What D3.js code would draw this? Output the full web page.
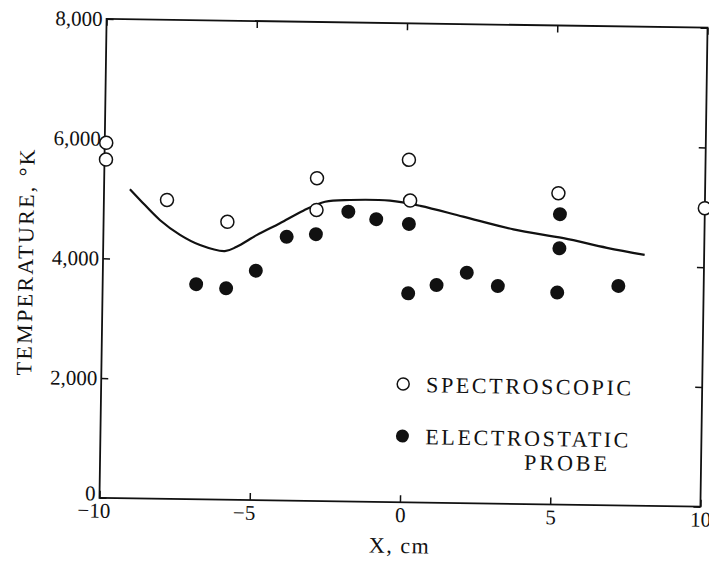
<!DOCTYPE html>
<html>
<head>
<meta charset="utf-8">
<script src="https://cdn.jsdelivr.net/npm/d3@7"></script>
<style>
  body { margin: 0; background: #fff; }
  text { font-family: 'Liberation Serif', 'DejaVu Serif', serif; fill: #111; }
</style>
</head>
<body>
<script>
// spectroscopic (open circles)
var specX = [-9.95, -9.95, -7.9, -5.88, -2.92, -2.92, 0.13, 0.19, 5.12, 10.0];
var specT = [5930, 5650, 4990, 4640, 5390, 4860, 5720, 5040, 5200, 4985];

// electrostatic probe (filled circles)
var probeX = [-6.89, -5.89, -4.91, -3.9, -2.93, -1.86, -0.93, 0.16, 0.17, 1.11, 2.11, 3.15, 5.18, 5.18, 5.13, 7.16];
var probeT = [3590, 3530, 3830, 4405, 4455, 4840, 4720, 4650, 3490, 3635, 3850, 3635, 4850, 4280, 3540, 3665];

// smooth curve through the data
var curveX = [-9.14, -8.79, -8.12, -7.45, -6.78, -5.95, -5.56, -4.9, -4.13, -3.36, -2.64, -1.81, -0.48, 0.53, 1.96, 3.64, 5.31, 6.76, 8.02];
var curveT = [5160, 4980, 4650, 4410, 4245, 4150, 4225, 4425, 4630, 4845, 5000, 5035, 5033, 4955, 4785, 4585, 4450, 4300, 4190];

var xTicks = [-10, -5, 0, 5, 10];
var yTicks = [0, 2000, 4000, 6000, 8000];

var svgWidth = 709;
var svgHeight = 561;

var plot = {left: 103, right: 704, top: 23.25, bottom: 502.25};

var svg = d3.select('body')
            .append('svg')
            .attr('width', svgWidth)
            .attr('height', svgHeight);

// the scanned figure sits slightly tilted
var chartGroup = svg.append('g')
                    .attr('transform', 'rotate(0.85, 403.5, 262.75)');

var xScale = d3.scaleLinear().domain([-10, 10]).range([plot.left, plot.right]);
var yScale = d3.scaleLinear().domain([0, 8000]).range([plot.bottom, plot.top]);

chartGroup.append('rect')
          .attr('x', xScale(-10))
          .attr('y', yScale(8000))
          .attr('width', xScale(10) - xScale(-10))
          .attr('height', yScale(0) - yScale(8000))
          .attr('fill', 'none')
          .attr('stroke', '#111')
          .attr('stroke-width', 1.8);

var bottomAxis = d3.axisBottom(xScale)
                   .tickValues(xTicks)
                   .tickSizeInner(-7)
                   .tickSizeOuter(0)
                   .tickPadding(5)
                   .tickFormat(d => (d < 0 ? '\u2212' : '') + Math.abs(d));

var leftAxis = d3.axisLeft(yScale)
                 .tickValues(yTicks)
                 .tickSizeInner(-7)
                 .tickSizeOuter(0)
                 .tickPadding(4)
                 .tickFormat(d3.format(','));

var xg = chartGroup.append('g')
                   .attr('transform', `translate(0, ${plot.bottom})`)
                   .call(bottomAxis);
xg.selectAll('text')
  .attr('text-anchor', 'end')
  .attr('dx', d => (String(Math.abs(d)).length * 0.25) + 'em');

var yg = chartGroup.append('g')
                   .attr('transform', `translate(${plot.left}, 0)`)
                   .call(leftAxis);
// the zero label sits a little above its tick
yg.selectAll('text').filter(d => d === 0).attr('dy', '0.1em');

chartGroup.append('g')
          .attr('transform', `translate(0, ${plot.top})`)
          .call(d3.axisTop(xScale).tickValues(xTicks).tickSizeInner(-7).tickSizeOuter(0).tickFormat(''));

chartGroup.append('g')
          .attr('transform', `translate(${plot.right}, 0)`)
          .call(d3.axisRight(yScale).tickValues(yTicks).tickSizeInner(-7).tickSizeOuter(0).tickFormat(''));

chartGroup.selectAll('.domain').remove();
chartGroup.selectAll('.tick line').attr('stroke', '#111').attr('stroke-width', 1.5);
chartGroup.selectAll('.tick text')
          .attr('font-family', 'Liberation Serif, serif')
          .attr('font-size', '21px')
          .attr('fill', '#111');

// curve
var line = d3.line()
             .x((d, i) => xScale(curveX[i]))
             .y((d, i) => yScale(curveT[i]))
             .curve(d3.curveCatmullRom);

chartGroup.append('path')
          .attr('d', line(curveX))
          .attr('fill', 'none')
          .attr('stroke', '#111')
          .attr('stroke-width', 2.2);

chartGroup.selectAll(null)
          .data(probeX)
          .enter()
          .append('circle')
          .attr('cx', d => xScale(d))
          .attr('cy', (d, i) => yScale(probeT[i]))
          .attr('r', 7)
          .attr('fill', '#111');

chartGroup.selectAll(null)
          .data(specX)
          .enter()
          .append('circle')
          .attr('cx', d => xScale(d))
          .attr('cy', (d, i) => yScale(specT[i]))
          .attr('r', 6.5)
          .attr('fill', '#fff')
          .attr('stroke', '#111')
          .attr('stroke-width', 1.5);

// legend
chartGroup.append('circle')
          .attr('cx', 405).attr('cy', 384).attr('r', 6)
          .attr('fill', '#fff').attr('stroke', '#111').attr('stroke-width', 1.5);
chartGroup.append('circle')
          .attr('cx', 405).attr('cy', 436).attr('r', 6.5)
          .attr('fill', '#111');

chartGroup.append('text')
          .attr('x', 428).attr('y', 392)
          .attr('font-size', '22px')
          .attr('textLength', 205).attr('lengthAdjust', 'spacing')
          .text('SPECTROSCOPIC');
chartGroup.append('text')
          .attr('x', 428).attr('y', 444)
          .attr('font-size', '22px')
          .attr('textLength', 203).attr('lengthAdjust', 'spacing')
          .text('ELECTROSTATIC');
chartGroup.append('text')
          .attr('x', 527).attr('y', 468)
          .attr('font-size', '22px')
          .attr('textLength', 83).attr('lengthAdjust', 'spacing')
          .text('PROBE');

// axis titles
chartGroup.append('text')
          .attr('transform', 'translate(33, 268) rotate(-90)')
          .attr('text-anchor', 'middle')
          .attr('font-size', '22px')
          .attr('textLength', 226).attr('lengthAdjust', 'spacing')
          .text('TEMPERATURE, \u00B0K');

chartGroup.append('text')
          .attr('x', 403).attr('y', 553)
          .attr('text-anchor', 'middle')
          .attr('font-size', '22px')
          .attr('textLength', 60).attr('lengthAdjust', 'spacing')
          .text('X, cm');
</script>
</body>
</html>
